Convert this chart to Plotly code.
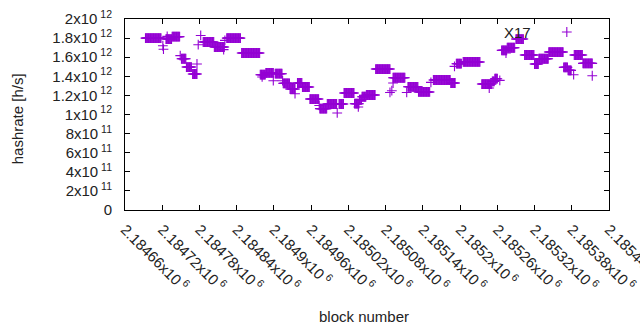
import plotly.graph_objects as go

# Runs of consecutive blocks sharing the same hashrate (start block, end block, hashrate)
run_start = [2184693, 2184726, 2184736, 2184751, 2184759, 2184769, 2184786, 2184804, 2184824,
             2184848, 2184878, 2184887, 2184902, 2184915, 2184926, 2184938, 2184946, 2184958,
             2184974, 2184986, 2185005, 2185013, 2185030, 2185038, 2185042, 2185049, 2185064,
             2185092, 2185116, 2185133, 2185157, 2185185, 2185194, 2185205, 2185235, 2185252,
             2185256, 2185267, 2185276, 2185290, 2185304, 2185320, 2185327, 2185343, 2185367,
             2185374, 2185384, 2185398]
run_end = [2184718, 2184735, 2184748, 2184758, 2184767, 2184776, 2184803, 2184820, 2184846,
           2184877, 2184886, 2184899, 2184913, 2184925, 2184934, 2184945, 2184957, 2184972,
           2184985, 2185001, 2185012, 2185029, 2185037, 2185041, 2185048, 2185063, 2185087,
           2185111, 2185132, 2185151, 2185184, 2185192, 2185202, 2185232, 2185251, 2185255,
           2185260, 2185275, 2185288, 2185302, 2185319, 2185326, 2185342, 2185366, 2185373,
           2185379, 2185397, 2185413]
run_hash = [1.800e12, 1.790e12, 1.815e12, 1.584e12, 1.497e12, 1.424e12, 1.759e12, 1.707e12, 1.800e12,
            1.644e12, 1.417e12, 1.435e12, 1.427e12, 1.326e12, 1.267e12, 1.330e12, 1.288e12, 1.162e12,
            1.061e12, 1.110e12, 1.110e12, 1.225e12, 1.113e12, 1.155e12, 1.186e12, 1.204e12, 1.476e12,
            1.385e12, 1.290e12, 1.236e12, 1.361e12, 1.330e12, 1.532e12, 1.550e12, 1.319e12, 1.347e12,
            1.375e12, 1.671e12, 1.699e12, 1.790e12, 1.623e12, 1.529e12, 1.584e12, 1.654e12, 1.493e12,
            1.462e12, 1.623e12, 1.535e12]

# Isolated blocks
pt_block = [2184721, 2184722, 2184728, 2184749, 2184776, 2184778, 2184782, 2184819, 2184821,
            2184881, 2184899, 2184914, 2184934, 2184973, 2185002, 2185036, 2185087, 2185090,
            2185092, 2185114, 2185153, 2185191, 2185247, 2185264, 2185274, 2185372, 2185383,
            2185413]
pt_hash = [1.720e12, 1.684e12, 1.818e12, 1.616e12, 1.529e12, 1.731e12, 1.828e12, 1.679e12, 1.776e12,
           1.393e12, 1.354e12, 1.354e12, 1.218e12, 1.095e12, 1.016e12, 1.079e12, 1.231e12, 1.249e12,
           1.330e12, 1.231e12, 1.336e12, 1.504e12, 1.277e12, 1.357e12, 1.644e12, 1.864e12, 1.417e12,
           1.406e12]

x_tickvals = [2184660, 2184720, 2184780, 2184840, 2184900, 2184960, 2185020, 2185080,
              2185140, 2185200, 2185260, 2185320, 2185380, 2185440]
x_ticktext = ["2.18466x10<sup> 6</sup>", "2.18472x10<sup> 6</sup>", "2.18478x10<sup> 6</sup>",
              "2.18484x10<sup> 6</sup>", "2.1849x10<sup> 6</sup>", "2.18496x10<sup> 6</sup>",
              "2.18502x10<sup> 6</sup>", "2.18508x10<sup> 6</sup>", "2.18514x10<sup> 6</sup>",
              "2.1852x10<sup> 6</sup>", "2.18526x10<sup> 6</sup>", "2.18532x10<sup> 6</sup>",
              "2.18538x10<sup> 6</sup>", "2.18544x10<sup> 6</sup>"]
y_tickvals = [0, 2e11, 4e11, 6e11, 8e11, 1e12, 1.2e12, 1.4e12, 1.6e12, 1.8e12, 2e12]
y_ticktext = ["0", "2x10<sup> 11</sup>", "4x10<sup> 11</sup>", "6x10<sup> 11</sup>",
              "8x10<sup> 11</sup>", "1x10<sup> 12</sup>", "1.2x10<sup> 12</sup>",
              "1.4x10<sup> 12</sup>", "1.6x10<sup> 12</sup>", "1.8x10<sup> 12</sup>",
              "2x10<sup> 12</sup>"]

x_title = "block number"
y_title = "hashrate [h/s]"
label_text = "X17"
label_block = 2185293
label_hash = 1.862e12

xs, ys = [], []
for s, e, h in zip(run_start, run_end, run_hash):
    for b in range(s, e + 1):
        xs.append(b)
        ys.append(h)
xs += pt_block
ys += pt_hash

COLOR = "#9400D3"
FONT = "Liberation Sans"
TXT = "#222"

W, H = 640, 330
ML, MR, MT, MB = 125, 31, 19, 120
PW = W - ML - MR
PH = H - MT - MB

fig = go.Figure()
fig.add_trace(go.Scatter(
    x=xs, y=ys, mode="markers",
    marker=dict(symbol="cross-thin", size=7, line=dict(width=1.1, color=COLOR), color=COLOR),
    showlegend=False,
))

fig.add_annotation(x=label_block, y=label_hash, text=label_text, showarrow=False,
                   font=dict(family=FONT, size=15, color=TXT))

# axis titles placed as paper annotations
fig.add_annotation(xref="paper", yref="paper", x=-(ML - 17) / PW, y=0.475, text=y_title,
                   textangle=-90, showarrow=False, xanchor="center", yanchor="middle",
                   font=dict(family=FONT, size=15, color=TXT))
fig.add_annotation(xref="paper", yref="paper", x=(364 - ML) / PW, y=-(316 - (MT + PH)) / PH,
                   text=x_title, showarrow=False, xanchor="center", yanchor="middle",
                   font=dict(family=FONT, size=15, color=TXT))

axis_common = dict(showline=True, linecolor="black", linewidth=1, mirror="allticks",
                   ticks="inside", ticklen=5, tickcolor="black", showgrid=False,
                   zeroline=False, ticklabeloverflow="allow")

fig.update_xaxes(range=[2184660, 2185440], tickvals=x_tickvals, ticktext=x_ticktext,
                 tickangle=45, ticklabelstandoff=4,
                 tickfont=dict(family=FONT, size=15, color=TXT),
                 **axis_common)
fig.update_yaxes(range=[0, 2e12], tickvals=y_tickvals, ticktext=y_ticktext,
                 ticklabelstandoff=9,
                 tickfont=dict(family=FONT, size=15, color=TXT),
                 **axis_common)

fig.update_layout(width=W, height=H, plot_bgcolor="white", paper_bgcolor="white",
                  margin=dict(l=ML, r=MR, t=MT, b=MB, autoexpand=False))

fig.write_html("out.html", config={"displayModeBar": False},
               post_script="document.body.style.margin='0';document.body.style.overflow='hidden';")
